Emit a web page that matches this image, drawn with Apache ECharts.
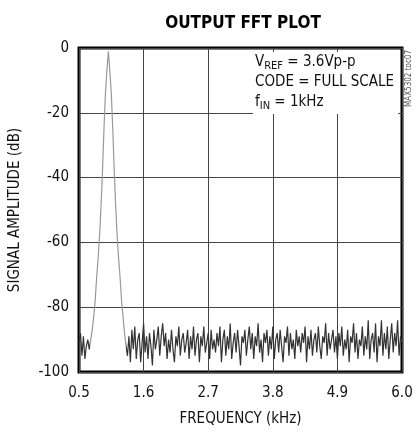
<!DOCTYPE html>
<html>
<head>
<meta charset="utf-8">
<script src="https://cdn.jsdelivr.net/npm/echarts@6/dist/echarts.min.js"></script>
<style>
  html, body { margin: 0; padding: 0; background: #fff; }
  #chart { width: 417px; height: 432px; }
</style>
</head>
<body>
<div id="chart"></div>
<script>
// frequency grid (kHz): 0.5 .. 6.0, one sample every 0.025 kHz
const freqStart = 0.5;
const freqStep = 0.025;

// amplitude (dB), one value per frequency sample
const lowNoise = [-91, -88, -95, -89, -96, -92, -90, -93];
const tonePeak = [
  -90, -87, -83, -78, -71, -65, -58, -49, -38, -25, -14, -7,
  -1,
  -7, -14, -25, -38, -49, -58, -65, -71, -78, -83, -88, -92
];
const noiseFloor = [
  -95, -89, -97, -87, -93, -86, -96, -90, -88, -97, -91, -85, -94, -89, -96, -88, -92, -98, -87, -93,
  -90, -86, -95, -89, -85, -92, -88, -96, -90, -94, -87, -93, -97, -89, -92, -86, -95, -90, -88, -94,
  -91, -87, -96, -89, -93, -86, -95, -90, -88, -97, -89, -92, -86, -94, -91, -88, -96, -87, -93, -90,
  -94, -88, -92, -86, -97, -90, -87, -95, -89, -93, -85, -96, -91, -88, -94, -87, -92, -98, -89, -91,
  -87, -95, -90, -86, -93, -88, -96, -89, -92, -85, -94, -90, -97, -88, -91, -87, -95, -89, -93, -86,
  -96, -90, -88, -94, -87, -92, -97, -89, -91, -86, -95, -88, -93, -90, -96, -87, -92, -89, -94, -88,
  -91, -86, -97, -89, -93, -87, -95, -90, -88, -94, -86, -92, -96, -89, -91, -85, -95, -88, -93, -90,
  -87, -94, -89, -96, -88, -92, -86, -95, -90, -93, -87, -97, -89, -91, -85, -94, -88, -96, -90, -92,
  -86, -95, -89, -93, -84, -96, -90, -88, -94, -85, -97, -89, -92, -84, -95, -88, -93, -86, -96, -90,
  -85, -94, -88, -92, -84, -95, -89, -91
];

const xTicks = [0.5, 1.6, 2.7, 3.8, 4.9, 6.0];
const yTicks = [0, -20, -40, -60, -80, -100];

const amplitude = lowNoise.concat(tonePeak, noiseFloor);
const points = amplitude.map((v, i) => [+(freqStart + i * freqStep).toFixed(3), v]);

const font = '"Liberation Sans Narrow", "DejaVu Sans Condensed", "Roboto", sans-serif';

const chart = echarts.init(document.getElementById('chart'));
chart.setOption({
  animation: false,
  backgroundColor: '#fff',
  title: {
    text: 'OUTPUT FFT PLOT',
    left: 238,
    top: 10,
    textAlign: 'center',
    textStyle: { fontFamily: font, fontSize: 17, fontWeight: 'bold', color: '#000' }
  },
  grid: {
    left: 79, right: 15, top: 48, bottom: 60,
    show: true, borderWidth: 3, borderColor: '#000', backgroundColor: 'transparent'
  },
  xAxis: {
    type: 'value',
    min: xTicks[0],
    max: xTicks[xTicks.length - 1],
    interval: 1.1,
    name: 'FREQUENCY (kHz)',
    nameLocation: 'middle',
    nameGap: 40,
    nameTextStyle: { fontFamily: font, fontSize: 15, color: '#111' },
    axisLine: { show: false },
    axisTick: { show: false },
    axisLabel: {
      margin: 14,
      fontFamily: font, fontSize: 15, color: '#111',
      formatter: v => v.toFixed(1)
    },
    splitLine: { show: true, lineStyle: { color: '#444', width: 1 } }
  },
  yAxis: {
    type: 'value',
    min: yTicks[yTicks.length - 1],
    max: yTicks[0],
    interval: 20,
    name: 'SIGNAL AMPLITUDE (dB)',
    nameLocation: 'middle',
    nameGap: 56,
    nameTextStyle: { fontFamily: font, fontSize: 15, color: '#111' },
    axisLine: { show: false },
    axisTick: { show: false },
    axisLabel: { margin: 10, fontFamily: font, fontSize: 15, color: '#111' },
    splitLine: { show: true, lineStyle: { color: '#444', width: 1 } }
  },
  visualMap: {
    show: false,
    type: 'piecewise',
    dimension: 0,
    seriesIndex: 0,
    pieces: [
      { lt: 0.68, color: '#333' },
      { gte: 0.68, lte: 1.3, color: '#999' },
      { gt: 1.3, color: '#333' }
    ]
  },
  series: [{
    type: 'line',
    data: points,
    showSymbol: false,
    symbol: 'none',
    lineStyle: { width: 1.2 },
    z: 3
  }],
  graphic: [
    {
      type: 'text',
      left: 253,
      top: 52,
      z: 10,
      style: {
        text: 'V{s|REF} = 3.6Vp-p\nCODE = FULL SCALE\nf{s|IN} = 1kHz',
        fontFamily: font,
        fontSize: 15,
        lineHeight: 20,
        fill: '#111',
        backgroundColor: '#fff',
        padding: [0, 4, 2, 2],
        rich: {
          s: { fontFamily: font, fontSize: 11, verticalAlign: 'bottom', padding: [6, 0, 0, 0], lineHeight: 20 }
        }
      }
    },
    {
      type: 'text',
      left: 405,
      top: 50,
      rotation: Math.PI / 2,
      style: {
        text: 'MAX5302 toc07',
        fontFamily: font,
        fontSize: 8,
        fill: '#555'
      }
    }
  ]
});
</script>
</body>
</html>
